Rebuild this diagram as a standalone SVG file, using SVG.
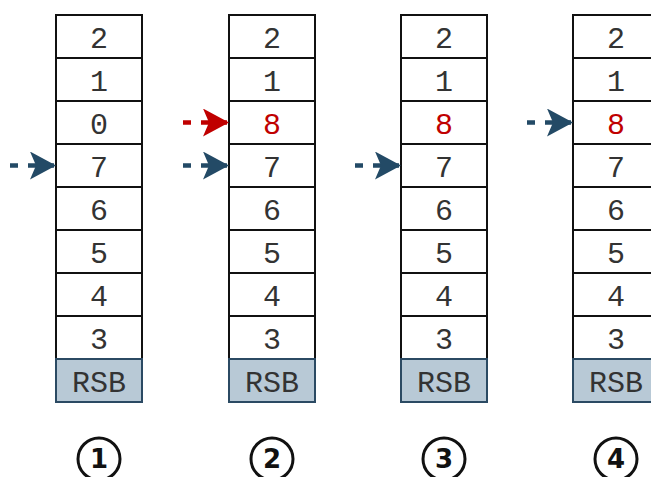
<svg xmlns="http://www.w3.org/2000/svg" width="651" height="477" viewBox="0 0 651 477">
  <style>
    .cell { fill: #ffffff; stroke: #111111; stroke-width: 2; }
    .rsb { fill: #b8c9d6; stroke: #2b4a63; stroke-width: 2; }
    .val { font-family: "Liberation Mono", "Courier New", monospace; font-size: 30px; fill: #333333; text-anchor: middle; }
    .new { fill: #c00000; }
    .num { font-family: "DejaVu Sans", "Liberation Sans", sans-serif; font-size: 26px; font-weight: bold; fill: #111111; text-anchor: middle; }
    .ring { fill: none; stroke: #111111; stroke-width: 3; }
    .stem { fill: none; stroke-width: 4.5; stroke-dasharray: 8 10; }
    .blue { stroke: #234a66; }
    .red { stroke: #c00000; }
  </style>
  <defs>
    <marker id="headBlue" viewBox="0 0 26 28" refX="26" refY="14" markerWidth="26" markerHeight="28" markerUnits="userSpaceOnUse" orient="auto">
      <path d="M0,0 L26,14 L0,28 L6,14 Z" fill="#234a66"/>
    </marker>
    <marker id="headRed" viewBox="0 0 26 28" refX="26" refY="14" markerWidth="26" markerHeight="28" markerUnits="userSpaceOnUse" orient="auto">
      <path d="M0,0 L26,14 L0,28 L6,14 Z" fill="#c00000"/>
    </marker>
  </defs>

  <!-- stack 1 -->
  <g id="stack1">
    <rect class="cell" x="56" y="15" width="86" height="43"/>
    <rect class="cell" x="56" y="58" width="86" height="43"/>
    <rect class="cell" x="56" y="101" width="86" height="43"/>
    <rect class="cell" x="56" y="144" width="86" height="43"/>
    <rect class="cell" x="56" y="187" width="86" height="43"/>
    <rect class="cell" x="56" y="230" width="86" height="43"/>
    <rect class="cell" x="56" y="273" width="86" height="43"/>
    <rect class="cell" x="56" y="316" width="86" height="43"/>
    <rect class="rsb" x="56" y="359" width="86" height="43"/>
    <text class="val" x="99" y="48">2</text>
    <text class="val" x="99" y="91">1</text>
    <text class="val" x="99" y="134">0</text>
    <text class="val" x="99" y="177">7</text>
    <text class="val" x="99" y="220">6</text>
    <text class="val" x="99" y="263">5</text>
    <text class="val" x="99" y="306">4</text>
    <text class="val" x="99" y="349">3</text>
    <text class="val" x="99" y="392">RSB</text>
  </g>

  <!-- stack 2 -->
  <g id="stack2">
    <rect class="cell" x="229" y="15" width="86" height="43"/>
    <rect class="cell" x="229" y="58" width="86" height="43"/>
    <rect class="cell" x="229" y="101" width="86" height="43"/>
    <rect class="cell" x="229" y="144" width="86" height="43"/>
    <rect class="cell" x="229" y="187" width="86" height="43"/>
    <rect class="cell" x="229" y="230" width="86" height="43"/>
    <rect class="cell" x="229" y="273" width="86" height="43"/>
    <rect class="cell" x="229" y="316" width="86" height="43"/>
    <rect class="rsb" x="229" y="359" width="86" height="43"/>
    <text class="val" x="272" y="48">2</text>
    <text class="val" x="272" y="91">1</text>
    <text class="val new" x="272" y="134">8</text>
    <text class="val" x="272" y="177">7</text>
    <text class="val" x="272" y="220">6</text>
    <text class="val" x="272" y="263">5</text>
    <text class="val" x="272" y="306">4</text>
    <text class="val" x="272" y="349">3</text>
    <text class="val" x="272" y="392">RSB</text>
  </g>

  <!-- stack 3 -->
  <g id="stack3">
    <rect class="cell" x="401" y="15" width="86" height="43"/>
    <rect class="cell" x="401" y="58" width="86" height="43"/>
    <rect class="cell" x="401" y="101" width="86" height="43"/>
    <rect class="cell" x="401" y="144" width="86" height="43"/>
    <rect class="cell" x="401" y="187" width="86" height="43"/>
    <rect class="cell" x="401" y="230" width="86" height="43"/>
    <rect class="cell" x="401" y="273" width="86" height="43"/>
    <rect class="cell" x="401" y="316" width="86" height="43"/>
    <rect class="rsb" x="401" y="359" width="86" height="43"/>
    <text class="val" x="444" y="48">2</text>
    <text class="val" x="444" y="91">1</text>
    <text class="val new" x="444" y="134">8</text>
    <text class="val" x="444" y="177">7</text>
    <text class="val" x="444" y="220">6</text>
    <text class="val" x="444" y="263">5</text>
    <text class="val" x="444" y="306">4</text>
    <text class="val" x="444" y="349">3</text>
    <text class="val" x="444" y="392">RSB</text>
  </g>

  <!-- stack 4 -->
  <g id="stack4">
    <rect class="cell" x="573" y="15" width="86" height="43"/>
    <rect class="cell" x="573" y="58" width="86" height="43"/>
    <rect class="cell" x="573" y="101" width="86" height="43"/>
    <rect class="cell" x="573" y="144" width="86" height="43"/>
    <rect class="cell" x="573" y="187" width="86" height="43"/>
    <rect class="cell" x="573" y="230" width="86" height="43"/>
    <rect class="cell" x="573" y="273" width="86" height="43"/>
    <rect class="cell" x="573" y="316" width="86" height="43"/>
    <rect class="rsb" x="573" y="359" width="86" height="43"/>
    <text class="val" x="616" y="48">2</text>
    <text class="val" x="616" y="91">1</text>
    <text class="val new" x="616" y="134">8</text>
    <text class="val" x="616" y="177">7</text>
    <text class="val" x="616" y="220">6</text>
    <text class="val" x="616" y="263">5</text>
    <text class="val" x="616" y="306">4</text>
    <text class="val" x="616" y="349">3</text>
    <text class="val" x="616" y="392">RSB</text>
  </g>

  <!-- step labels -->
  <g id="step1"><circle class="ring" cx="99" cy="459" r="21"/><text class="num" x="99" y="468">1</text></g>
  <g id="step2"><circle class="ring" cx="272" cy="459" r="21"/><text class="num" x="272" y="468">2</text></g>
  <g id="step3"><circle class="ring" cx="444" cy="459" r="21"/><text class="num" x="444" y="468">3</text></g>
  <g id="step4"><circle class="ring" cx="616" cy="459" r="21"/><text class="num" x="616" y="468">4</text></g>

  <!-- stack pointer arrows -->
  <g id="connectors">
    <line class="stem blue" x1="10" y1="165.5" x2="56" y2="165.5" marker-end="url(#headBlue)"/>
    <line class="stem red" x1="183" y1="122.5" x2="229" y2="122.5" marker-end="url(#headRed)"/>
    <line class="stem blue" x1="183" y1="165.5" x2="229" y2="165.5" marker-end="url(#headBlue)"/>
    <line class="stem blue" x1="355" y1="165.5" x2="401" y2="165.5" marker-end="url(#headBlue)"/>
    <line class="stem blue" x1="527" y1="122.5" x2="573" y2="122.5" marker-end="url(#headBlue)"/>
  </g>
</svg>
